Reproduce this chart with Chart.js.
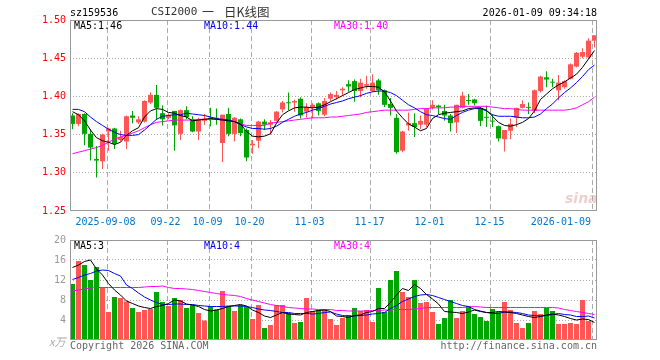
<!DOCTYPE html>
<html lang="zh-CN">
<head>
<meta charset="UTF-8">
<title>CSI2000 一 日K线图</title>
<script src="https://cdn.jsdelivr.net/npm/chart.js"></script>
<style>
  html, body { margin: 0; padding: 0; background: #fff; }
  #wrap { position: relative; width: 660px; height: 360px; overflow: hidden;
          font-family: "DejaVu Sans Mono", monospace; font-size: 10px; }
  #wrap canvas { position: absolute; left: 0; }
  .t { position: absolute; white-space: nowrap; line-height: 10px; }
</style>
</head>
<body>
<div id="wrap">
  <canvas id="kline" width="660" height="235" style="top:0"></canvas>
  <canvas id="vol" width="660" height="130" style="top:230px"></canvas>

  <div class="t" style="left:70px;top:8px;color:#000">sz159536</div>
  <div class="t" style="left:151px;top:6px;color:#333;font-size:11px;line-height:12px">CSI2000</div>
  <div class="t" style="left:202px;top:5px;color:#333;font-size:12px;line-height:14px;font-family:'Noto Sans CJK SC'">一</div>
  <div class="t" style="left:224px;top:5px;color:#333;font-size:12.5px;line-height:14px;font-family:'Noto Sans CJK SC'">日K线图</div>
  <div class="t" style="right:63px;top:8px;color:#000">2026-01-09 09:34:18</div>

  <div class="t" style="left:74px;top:21px;color:#000">MA5:1.46</div>
  <div class="t" style="left:204px;top:21px;color:#0000ee">MA10:1.44</div>
  <div class="t" style="left:334px;top:21px;color:#ff00ff">MA30:1.40</div>

  <div class="t" style="left:74px;top:241px;color:#000">MA5:3</div>
  <div class="t" style="left:204px;top:241px;color:#0000ee">MA10:4</div>
  <div class="t" style="left:334px;top:241px;color:#ff00ff">MA30:4</div>

  <div class="t" style="left:49px;top:336px;color:#aaa;font-size:11px;font-style:italic;font-family:'Noto Sans CJK SC'">x万</div>
  <div class="t" style="left:70px;top:341px;color:#666">Copyright 2026 SINA.COM</div>
  <div class="t" style="right:63px;top:341px;color:#666">http://finance.sina.com.cn</div>
  <div class="t" style="left:565px;top:191px;color:rgba(200,120,120,0.35);font-size:14px;line-height:14px;font-weight:bold;font-style:italic;font-family:'DejaVu Sans'">sina</div>
</div>

<script>
// 日K数据 (2025-08-29 ~ 2026-01-09)
const opens = [
  1.375,1.364,1.377,1.351,1.318,1.315,1.354,1.358,1.343,1.341,
  1.375,1.366,1.367,1.392,1.402,1.378,1.372,1.381,1.351,1.382,
  1.370,1.354,1.368,1.372,1.372,1.339,1.377,1.351,1.370,1.356,
  1.336,1.342,1.367,1.363,1.368,1.383,1.392,1.392,1.397,1.380,
  1.386,1.391,1.376,1.397,1.399,1.408,1.416,1.420,1.407,1.414,
  1.407,1.421,1.408,1.390,1.372,1.329,1.362,1.365,1.363,1.363,
  1.385,1.388,1.381,1.375,1.366,1.385,1.395,1.396,1.385,1.373,
  1.368,1.361,1.344,1.355,1.372,1.385,1.386,1.381,1.407,1.425,
  1.419,1.408,1.412,1.423,1.439,1.452,1.451,1.473
];
const closes = [
  1.364,1.377,1.351,1.333,1.316,1.350,1.358,1.338,1.347,1.374,
  1.372,1.370,1.394,1.402,1.385,1.370,1.376,1.362,1.382,1.373,
  1.354,1.370,1.371,1.370,1.370,1.376,1.351,1.372,1.352,1.320,
  1.338,1.367,1.363,1.366,1.380,1.392,1.391,1.394,1.375,1.386,
  1.389,1.381,1.394,1.403,1.402,1.410,1.413,1.407,1.418,1.416,
  1.418,1.408,1.389,1.385,1.327,1.354,1.365,1.360,1.368,1.384,
  1.389,1.386,1.375,1.365,1.389,1.401,1.394,1.391,1.368,1.372,
  1.367,1.345,1.356,1.364,1.385,1.390,1.385,1.408,1.426,1.422,
  1.418,1.418,1.420,1.442,1.457,1.458,1.473,1.480
];
const highs = [
  1.378,1.378,1.378,1.357,1.335,1.351,1.359,1.359,1.355,1.375,
  1.381,1.374,1.395,1.405,1.415,1.388,1.378,1.381,1.383,1.387,
  1.374,1.372,1.377,1.385,1.384,1.376,1.385,1.373,1.371,1.358,
  1.343,1.368,1.370,1.369,1.381,1.394,1.405,1.396,1.399,1.391,
  1.391,1.392,1.398,1.405,1.407,1.412,1.421,1.422,1.423,1.427,
  1.429,1.423,1.409,1.398,1.377,1.355,1.379,1.378,1.375,1.384,
  1.395,1.389,1.389,1.377,1.389,1.406,1.403,1.397,1.386,1.388,
  1.377,1.362,1.356,1.371,1.385,1.395,1.392,1.409,1.427,1.433,
  1.423,1.428,1.421,1.443,1.458,1.463,1.476,1.480
];
const lows = [
  1.357,1.361,1.336,1.316,1.294,1.305,1.329,1.331,1.341,1.331,
  1.365,1.364,1.366,1.390,1.369,1.362,1.370,1.329,1.343,1.370,
  1.353,1.343,1.363,1.361,1.363,1.314,1.348,1.341,1.348,1.315,
  1.325,1.332,1.356,1.350,1.367,1.379,1.382,1.380,1.371,1.372,
  1.371,1.375,1.374,1.394,1.396,1.401,1.406,1.393,1.399,1.410,
  1.406,1.402,1.386,1.375,1.325,1.327,1.355,1.347,1.357,1.360,
  1.383,1.377,1.368,1.354,1.352,1.384,1.389,1.388,1.361,1.360,
  1.360,1.341,1.328,1.344,1.360,1.384,1.377,1.378,1.405,1.412,
  1.412,1.395,1.410,1.422,1.438,1.450,1.450,1.464
];
const ma5 = [
  1.380,1.376,1.368,1.356,1.346,1.342,1.340,1.337,1.340,1.349,
  1.355,1.359,1.373,1.381,1.384,1.383,1.379,1.378,1.375,1.373,
  1.368,1.369,1.370,1.371,1.370,1.369,1.368,1.367,1.364,1.354,
  1.348,1.347,1.348,1.351,1.365,1.376,1.381,1.385,1.386,1.386,
  1.385,1.386,1.389,1.393,1.397,1.401,1.405,1.409,1.411,1.413,
  1.413,1.412,1.406,1.394,1.381,1.372,1.364,1.360,1.355,1.358,
  1.371,1.376,1.378,1.379,1.380,1.381,1.384,1.385,1.385,1.382,
  1.374,1.366,1.362,1.361,1.363,1.366,1.371,1.381,1.396,1.403,
  1.410,1.415,1.419,1.424,1.429,1.438,1.449,1.460
];
const ma10 = [
  1.383,1.383,1.380,1.373,1.367,1.362,1.357,1.353,1.350,1.349,
  1.349,1.350,1.356,1.363,1.370,1.374,1.375,1.376,1.376,1.378,
  1.377,1.376,1.375,1.373,1.371,1.370,1.369,1.367,1.363,1.360,
  1.358,1.358,1.357,1.358,1.361,1.366,1.370,1.374,1.377,1.379,
  1.382,1.384,1.387,1.390,1.392,1.394,1.397,1.399,1.401,1.404,
  1.406,1.407,1.407,1.405,1.401,1.395,1.389,1.385,1.380,1.376,
  1.375,1.373,1.371,1.370,1.375,1.379,1.382,1.384,1.384,1.381,
  1.376,1.374,1.374,1.374,1.373,1.372,1.372,1.373,1.377,1.384,
  1.390,1.398,1.405,1.411,1.418,1.426,1.435,1.441
];
const ma30 = [
  1.325,1.327,1.329,1.331,1.333,1.336,1.340,1.344,1.347,1.349,
  1.352,1.355,1.359,1.363,1.366,1.367,1.368,1.369,1.369,1.369,
  1.369,1.370,1.370,1.370,1.370,1.369,1.369,1.367,1.364,1.362,
  1.362,1.362,1.362,1.365,1.366,1.367,1.368,1.369,1.370,1.371,
  1.372,1.372,1.372,1.373,1.373,1.374,1.375,1.376,1.377,1.379,
  1.380,1.381,1.382,1.382,1.382,1.382,1.382,1.383,1.384,1.384,
  1.385,1.385,1.385,1.386,1.386,1.387,1.387,1.387,1.387,1.387,
  1.386,1.385,1.384,1.384,1.383,1.382,1.382,1.382,1.382,1.382,
  1.382,1.382,1.382,1.383,1.385,1.389,1.393,1.399
];
// 成交量 (万)
const vol = [
  11.2,15.8,15.0,12.0,14.6,10.5,5.6,8.6,8.4,7.7,
  6.4,5.6,6.0,6.2,9.6,7.6,6.8,8.4,8.0,6.4,
  7.0,5.4,3.9,6.8,6.1,9.8,6.8,5.8,7.0,6.6,
  4.2,7.0,2.4,3.0,7.0,7.0,5.4,3.4,3.6,8.4,
  5.8,6.0,6.2,4.2,3.0,4.4,5.0,6.4,5.8,6.0,
  3.6,10.4,5.6,12.0,13.8,9.6,8.6,12.0,7.4,7.6,
  5.6,3.2,4.4,8.0,4.4,5.8,6.8,5.2,4.6,3.8,
  6.2,5.6,7.6,6.0,3.4,2.4,3.4,5.8,5.2,6.4,
  5.8,3.2,3.2,3.4,3.2,8.0,3.8,0.2
];
const vma5 = [
  14.5,15.0,15.7,16.0,14.2,13.0,11.3,10.0,9.0,7.8,
  7.3,6.8,6.5,6.3,6.7,6.9,7.3,8.0,7.8,7.2,
  7.0,6.7,6.1,5.8,6.0,6.3,6.7,6.9,7.1,6.8,
  6.0,5.5,4.8,4.5,5.0,5.5,5.2,5.1,5.0,5.5,
  5.7,5.9,6.0,5.7,4.8,4.7,4.5,4.9,5.0,5.5,
  5.7,6.3,6.3,7.5,9.0,10.3,9.9,11.1,10.3,9.1,
  8.2,7.2,5.7,5.6,5.5,5.3,5.6,6.0,5.7,5.5,
  5.5,5.7,5.6,5.5,5.3,5.0,4.7,4.5,4.7,5.0,
  5.2,5.0,4.7,4.3,4.0,4.2,4.1,3.5
];
const vma10 = [
  12.1,12.5,13.0,13.3,13.8,14.0,13.9,13.3,12.8,11.0,
  10.3,9.4,8.6,8.0,7.5,7.1,7.1,7.2,7.2,7.1,
  7.1,6.9,6.8,6.7,6.7,6.7,6.8,6.8,6.8,6.7,
  6.5,6.2,6.0,5.9,5.7,5.5,5.5,5.3,5.3,5.3,
  5.2,5.3,5.5,5.6,5.2,4.9,4.8,4.8,4.9,5.0,
  5.2,5.3,5.5,6.3,6.9,7.7,8.2,8.7,9.0,9.1,
  8.9,8.5,8.1,7.7,7.3,6.9,6.7,6.1,5.8,5.5,
  5.3,5.3,5.6,5.6,5.5,5.3,5.0,4.9,4.8,4.9,
  5.1,5.3,5.1,5.0,4.7,4.7,4.8,4.4
];
const vma30 = [
  9.8,10.0,10.2,10.4,10.5,10.5,10.5,10.5,10.5,10.5,
  10.5,10.5,10.6,10.7,10.7,10.8,10.5,10.3,10.3,10.2,
  10.1,9.9,9.7,9.5,9.3,9.1,9.0,8.9,8.7,8.3,
  8.0,7.7,7.4,7.1,6.9,6.7,6.5,6.4,6.3,6.2,
  6.2,6.1,6.1,6.1,5.9,5.9,5.8,5.8,5.8,5.8,
  5.9,5.9,6.0,6.0,6.1,6.1,6.1,6.2,6.3,6.5,
  6.5,6.5,6.5,6.5,6.5,6.5,6.6,6.7,6.6,6.5,
  6.5,6.5,6.5,6.5,6.5,6.5,6.5,6.5,6.5,6.5,
  6.5,6.4,6.1,5.9,5.7,5.5,5.3,5.1
];
// x 轴日期刻度 (K线序号)
const tickIdx = [6, 16, 23, 30, 40, 50, 60, 70, 87];
const xLabels = ['2025-09-08', '09-22', '10-09', '10-20', '11-03', '11-17', '12-01', '12-15', '2026-01-09'];

const RED = '#ff5555', GREEN = '#00a600';
const MONO = "'DejaVu Sans Mono', monospace";
const xMin = -0.4167, xMax = 87.4167;
const barColor = closes.map((c, i) => c >= opens[i] ? RED : GREEN);
const pts = arr => arr.map((v, i) => ({ x: i, y: v }));

const frame = {
  id: 'frame',
  afterDatasetsDraw(chart) {
    const { ctx, chartArea: a } = chart;
    ctx.save();
    ctx.strokeStyle = '#999';
    ctx.lineWidth = 1;
    ctx.strokeRect(Math.round(a.left) + 0.5, Math.round(a.top) + 0.5,
                   Math.round(a.right - a.left) - 1, Math.round(a.bottom - a.top) - 1);
    ctx.restore();
  }
};

function maLine(label, data, color) {
  return { type: 'line', label, data: pts(data), xAxisID: 'x', borderColor: color,
           borderWidth: 1, pointRadius: 0, tension: 0, order: 0 };
}

const vGrid = {
  type: 'linear', min: xMin, max: xMax, offset: false,
  afterBuildTicks: s => { s.ticks = tickIdx.map(v => ({ value: v - 0.25 })); },
  ticks: { display: false },
  grid: { color: '#aaa', drawTicks: false, offset: false },
  border: { display: false, dash: [5, 3] }
};

new Chart(document.getElementById('kline'), {
  type: 'bar',
  data: {
    datasets: [
      maLine('MA5', ma5, '#000'),
      maLine('MA10', ma10, '#0000ff'),
      maLine('MA30', ma30, '#ff00ff'),
      { label: 'body', data: opens.map((o, i) => ({ x: i, y: [o, closes[i]] })), xAxisID: 'x',
        backgroundColor: barColor, barThickness: 5, grouped: false, minBarLength: 1,
        inflateAmount: 0, order: 1 },
      { label: 'wick', data: lows.map((l, i) => ({ x: i, y: [l, highs[i]] })), xAxisID: 'x',
        backgroundColor: barColor, barThickness: 1, grouped: false, inflateAmount: 0, order: 2 }
    ]
  },
  options: {
    responsive: false, animation: false,
    layout: { padding: { top: 20, right: 63, left: 0, bottom: 0 } },
    plugins: { legend: { display: false }, tooltip: { enabled: false } },
    scales: {
      xg: Object.assign({}, vGrid, { position: 'top', afterFit: s => { s.height = 0; } }),
      x: {
        type: 'linear', position: 'bottom', min: xMin, max: xMax, offset: false,
        afterBuildTicks: s => {
          s.ticks = tickIdx.map((v, k) => ({ value: k === tickIdx.length - 1 ? v - 5.6 : v - 0.5 }));
        },
        afterFit: s => { s.height = 24; },
        ticks: { color: '#0077cc', font: { family: MONO, size: 10 }, padding: 5,
                 maxRotation: 0, autoSkip: false, callback: (v, k) => xLabels[k] },
        grid: { display: false, drawTicks: false },
        border: { display: false }
      },
      y: {
        min: 1.25, max: 1.50, beginAtZero: false,
        afterFit: s => { s.width = 70; },
        ticks: { stepSize: 0.05, color: '#ff0000', font: { family: MONO, size: 10 }, padding: 4,
                 callback: v => v.toFixed(2) },
        grid: { drawTicks: false,
                color: c => (c.tick.value <= 1.2501 || c.tick.value >= 1.4999) ? 'rgba(0,0,0,0)' : '#aaa' },
        border: { display: false, dash: [1, 2] }
      }
    }
  },
  plugins: [frame]
});

new Chart(document.getElementById('vol'), {
  type: 'bar',
  data: {
    datasets: [
      maLine('MA5', vma5, '#000'),
      maLine('MA10', vma10, '#0000ff'),
      maLine('MA30', vma30, '#ff00ff'),
      { label: 'vol', data: pts(vol), xAxisID: 'x', backgroundColor: barColor,
        barThickness: 5, grouped: false, inflateAmount: 0, order: 1 }
    ]
  },
  options: {
    responsive: false, animation: false,
    layout: { padding: { top: 10, right: 63, left: 0, bottom: 0 } },
    plugins: { legend: { display: false }, tooltip: { enabled: false } },
    scales: {
      x: Object.assign({}, vGrid, { position: 'bottom', afterFit: s => { s.height = 20; } }),
      y: {
        min: 0, max: 20,
        afterFit: s => { s.width = 70; },
        ticks: { stepSize: 4, color: '#999', font: { family: MONO, size: 10 }, padding: 4,
                 callback: v => v === 0 ? '' : v },
        grid: { drawTicks: false,
                color: c => (c.tick.value === 0 || c.tick.value === 20) ? 'rgba(0,0,0,0)' : '#aaa' },
        border: { display: false, dash: [1, 2] }
      }
    }
  },
  plugins: [frame]
});
</script>
</body>
</html>
